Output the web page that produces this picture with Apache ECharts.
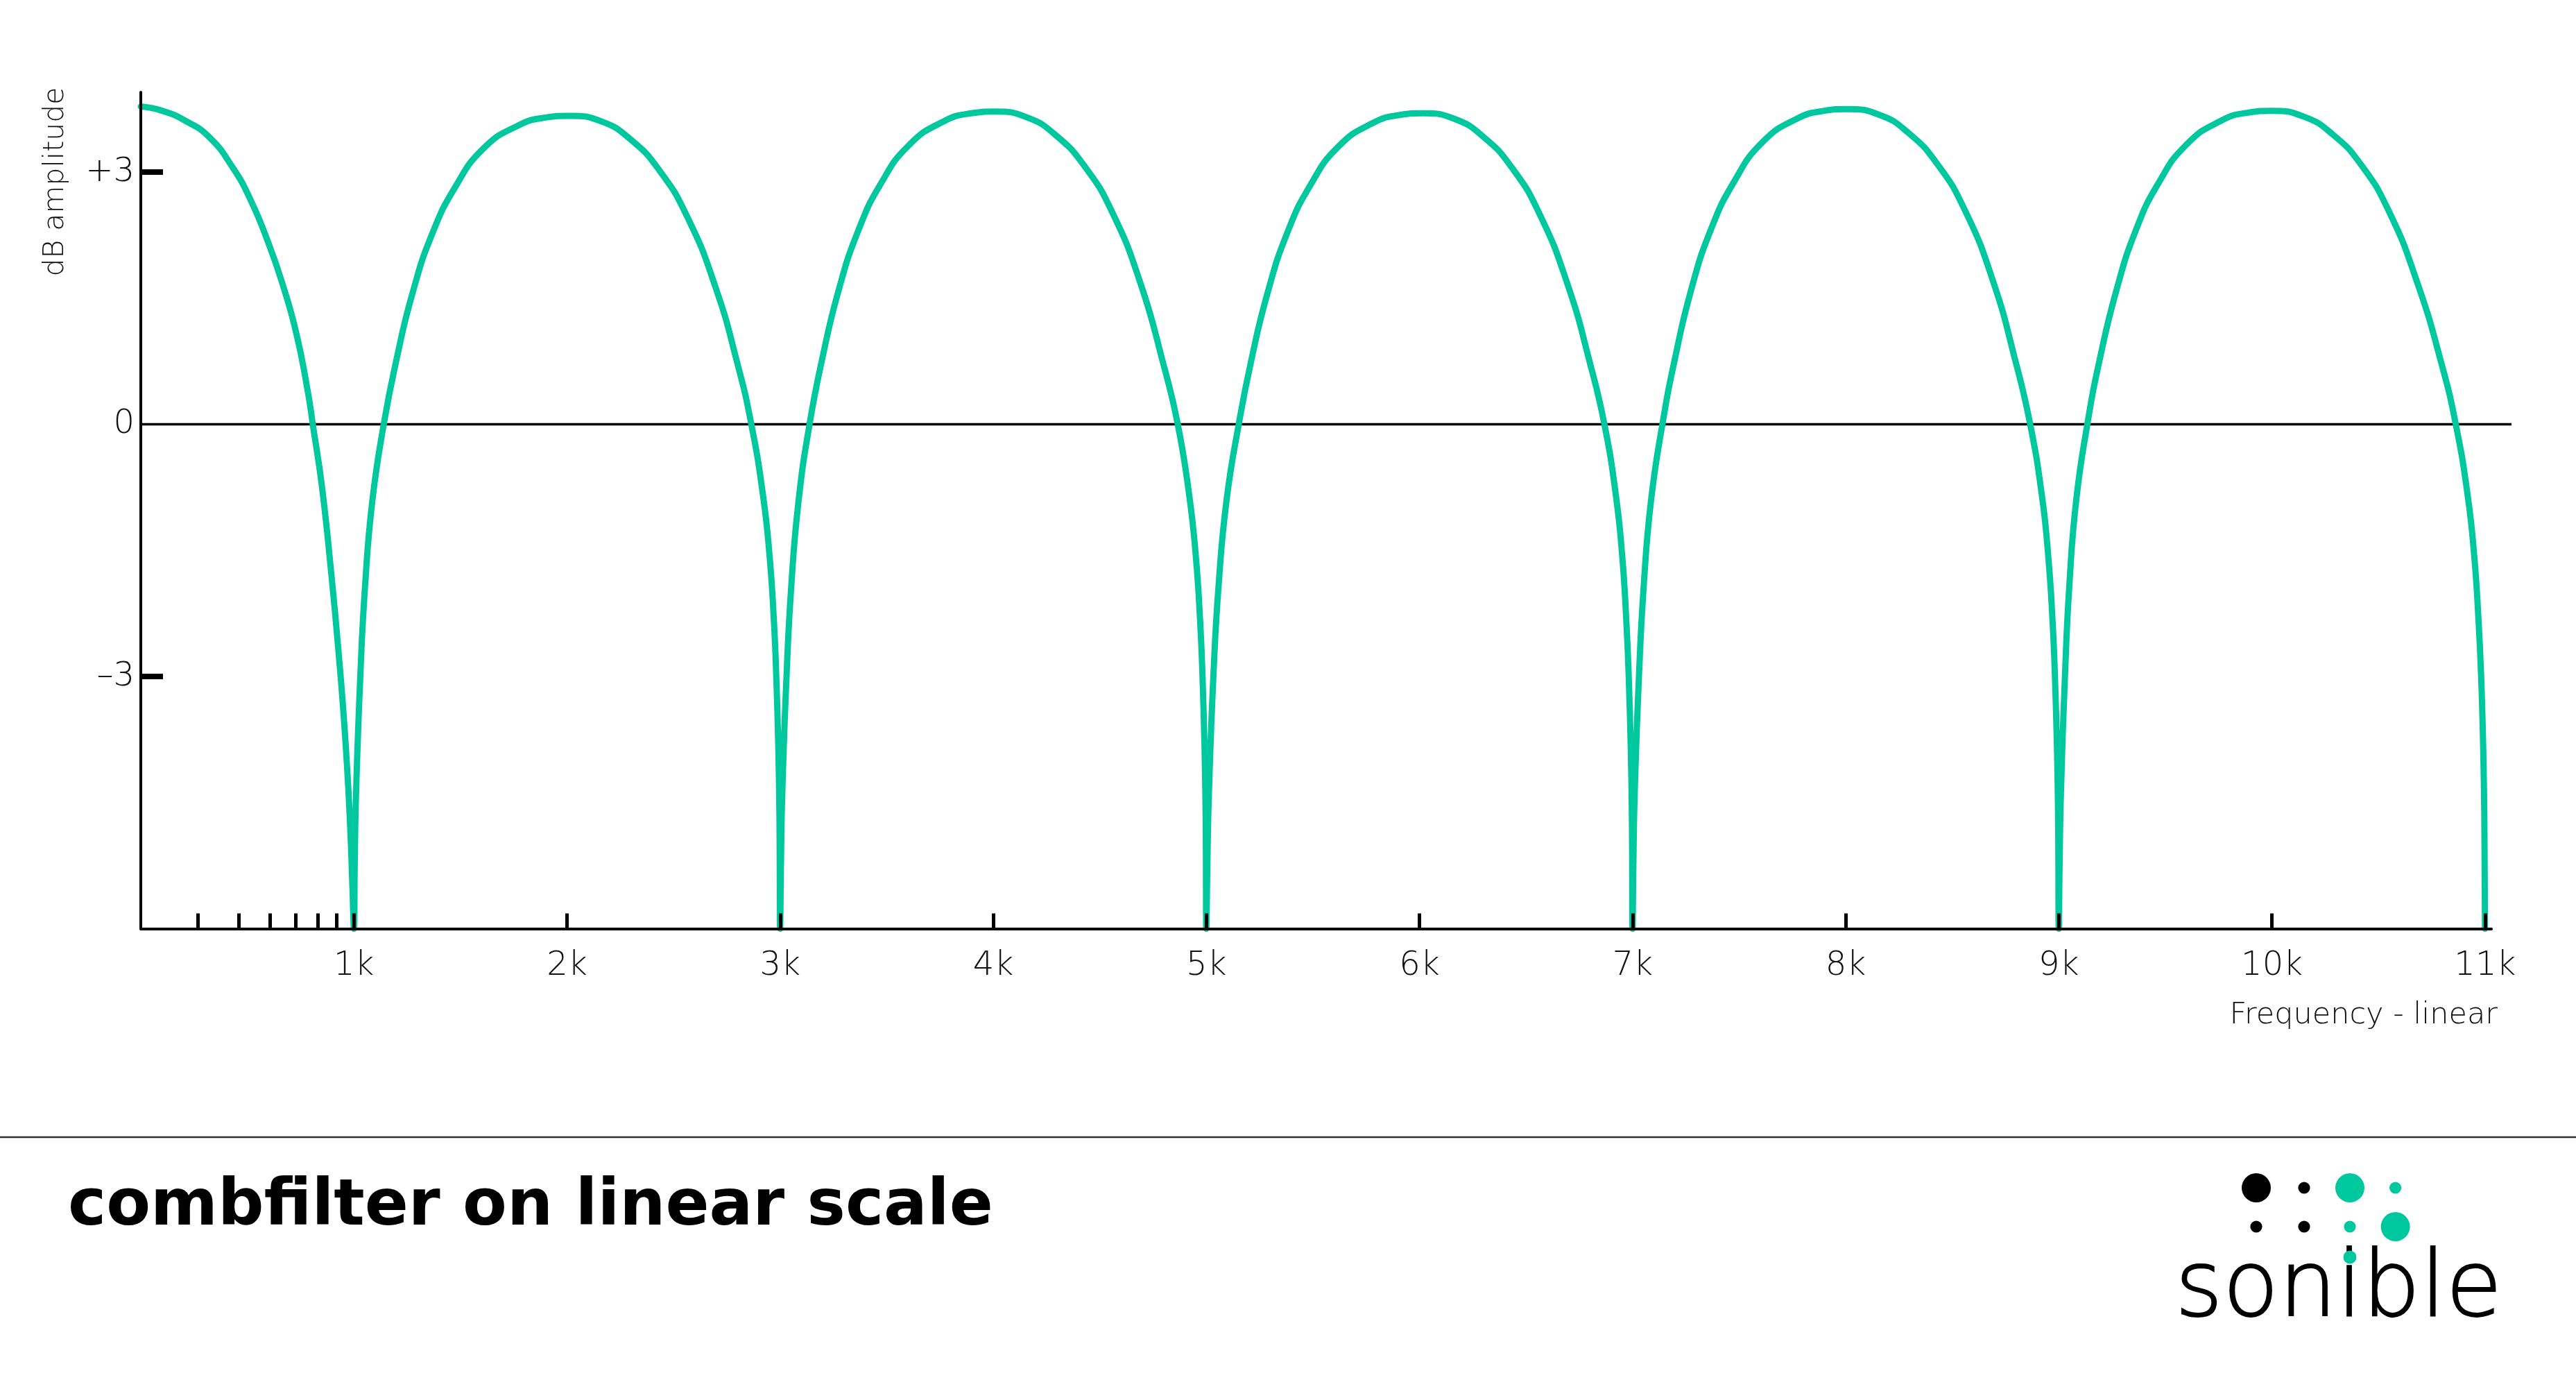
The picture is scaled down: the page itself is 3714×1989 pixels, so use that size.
<!DOCTYPE html>
<html>
<head>
<meta charset="utf-8">
<script src="https://cdn.jsdelivr.net/npm/echarts@6/dist/echarts.min.js"></script>
<style>html,body{margin:0;padding:0;background:#fff}#c{width:3714px;height:1989px}</style>
</head>
<body>
<div id="c"></div>
<script>
// ---- data (frequency in kHz, level in dB) ----
const ARCH_0K_1K = [[0,3.78],[0.1,3.73],[0.21,3.61],[0.32,3.42],[0.43,3.06],[0.515,2.67],[0.6,2.15],[0.665,1.67],[0.73,1.08],[0.785,0.37],[0.807,0],[0.85,-0.74],[0.894,-1.78],[0.927,-2.68],[0.959,-3.72],[0.981,-4.7],[0.993,-5.5],[1.0,-6]];
const ARCH_1K_3K = [[1.004,-5.2],[1.01,-4.4],[1.03,-3.0],[1.053,-1.9],[1.087,-0.9],[1.14,0],[1.198,0.75],[1.275,1.56],[1.368,2.27],[1.475,2.82],[1.607,3.28],[1.767,3.55],[1.9,3.65],[2.01,3.67],[2.165,3.6],[2.298,3.39],[2.431,3.03],[2.564,2.47],[2.697,1.63],[2.8,0.72],[2.865,0],[2.92,-0.85],[2.95,-1.55],[2.97,-2.3],[2.982,-3.0],[2.992,-3.9],[2.997,-4.7],[3.0,-6]];
const ARCH_3K_5K = [[3.004,-5.2],[3.01,-4.4],[3.03,-3.0],[3.053,-1.9],[3.087,-0.9],[3.138,0],[3.196,0.76],[3.273,1.58],[3.366,2.3],[3.472,2.86],[3.604,3.32],[3.764,3.6],[3.897,3.7],[4.005,3.72],[4.16,3.65],[4.293,3.44],[4.426,3.08],[4.559,2.52],[4.692,1.67],[4.796,0.74],[4.866,0],[4.92,-0.85],[4.95,-1.55],[4.97,-2.3],[4.982,-3.0],[4.992,-3.9],[4.997,-4.7],[5.0,-6]];
const ARCH_5K_7K = [[5.005,-5.2],[5.012,-4.4],[5.033,-3.0],[5.058,-1.9],[5.095,-0.9],[5.152,0],[5.21,0.75],[5.287,1.56],[5.38,2.28],[5.487,2.84],[5.618,3.3],[5.778,3.58],[5.908,3.68],[6.015,3.7],[6.168,3.63],[6.3,3.42],[6.432,3.06],[6.564,2.5],[6.697,1.65],[6.8,0.73],[6.868,0],[6.922,-0.85],[6.951,-1.55],[6.97,-2.3],[6.982,-3.0],[6.992,-3.9],[6.997,-4.7],[7.0,-6]];
const ARCH_7K_9K = [[7.004,-5.2],[7.01,-4.4],[7.03,-3.0],[7.053,-1.9],[7.087,-0.9],[7.14,0],[7.198,0.77],[7.275,1.6],[7.368,2.32],[7.475,2.88],[7.607,3.35],[7.767,3.63],[7.9,3.73],[8.003,3.75],[8.16,3.68],[8.293,3.47],[8.426,3.11],[8.559,2.55],[8.692,1.7],[8.797,0.75],[8.866,0],[8.921,-0.85],[8.95,-1.55],[8.97,-2.3],[8.982,-3.0],[8.992,-3.9],[8.997,-4.7],[9.0,-6]];
const ARCH_9K_11K = [[9.004,-5.2],[9.01,-4.4],[9.029,-3.0],[9.05,-1.9],[9.082,-0.9],[9.134,0],[9.192,0.77],[9.27,1.59],[9.362,2.31],[9.468,2.87],[9.6,3.33],[9.76,3.61],[9.893,3.71],[9.996,3.73],[10.15,3.66],[10.285,3.45],[10.418,3.09],[10.55,2.53],[10.683,1.68],[10.794,0.74],[10.863,0],[10.919,-0.85],[10.949,-1.55],[10.969,-2.3],[10.982,-3.0],[10.992,-3.9],[10.997,-4.7],[11.0,-6]];
const ZERO_LINE = [[0,0],[11.13,0]];

const X_TICKS = [0.269,0.459,0.606,0.727,0.83,0.917,1,2,3,4,5,6,7,8,9,10,11];
const X_TICK_LABELS = [1,2,3,4,5,6,7,8,9,10,11];
const Y_TICKS = [-3,3];
const Y_TICK_LABELS = [-3,0,3];
const X_RANGE = [0, 11.03];
const ZERO_LINE_RANGE = [0, 11.13];
const Y_RANGE = [-6, 3.95];

const CURVE = [].concat(ARCH_0K_1K, ARCH_1K_3K, ARCH_3K_5K, ARCH_5K_7K, ARCH_7K_9K, ARCH_9K_11K);

// ---- style ----
const GREEN = '#00C89E';
const LIGHT = '"DejaVu Sans", sans-serif';
const BOLD = '"DejaVu Sans", sans-serif';

const chart = echarts.init(document.getElementById('c'), null, {renderer: 'canvas', width: 3714, height: 1989});

const dots = [
  [3253, 1712, 21, '#000'], [3322, 1712, 8.6, '#000'], [3388, 1712, 21, GREEN], [3453.6, 1712, 8.6, GREEN],
  [3253, 1768, 8.6, '#000'], [3322, 1768, 8.6, '#000'], [3388, 1768, 8.6, GREEN], [3453.6, 1768, 21, GREEN]
];

const graphic = [
  {type: 'line', shape: {x1: 0, y1: 1639, x2: 3714, y2: 1639}, style: {stroke: '#333', lineWidth: 2.5}},
  {type: 'text', x: 98, y: 1741, style: {text: 'combfilter on linear scale', font: 'bold 93px ' + BOLD, fill: '#000', align: 'left', verticalAlign: 'middle', textAlign: 'left', textVerticalAlign: 'middle'}},
  {type: 'text', x: 3601, y: 1464, style: {text: 'Frequency - linear', font: '200 43px ' + LIGHT, fill: '#111', align: 'right', verticalAlign: 'middle', textAlign: 'right', textVerticalAlign: 'middle'}},
  {type: 'text', x: 80, y: 262, rotation: Math.PI / 2, style: {text: 'dB amplitude', font: '200 41px ' + LIGHT, fill: '#111', align: 'center', verticalAlign: 'middle', textAlign: 'center', textVerticalAlign: 'middle'}},
  {type: 'text', x: 3136, y: 1862, style: {text: 'sonible', font: '200 132px ' + LIGHT, fill: '#000', stroke: '#000', lineWidth: 1.8, align: 'left', verticalAlign: 'middle', textAlign: 'left', textVerticalAlign: 'middle'}}
];
dots.forEach(d => graphic.push({type: 'circle', shape: {cx: d[0], cy: d[1], r: d[2]}, style: {fill: d[3]}}));
graphic.push({type: 'circle', shape: {cx: 3388, cy: 1812, r: 9.5}, style: {fill: GREEN}});

chart.setOption({
  animation: false,
  backgroundColor: '#fff',
  grid: [
    {left: 203, right: 122, top: 133, bottom: 650.5, containLabel: false},
    {left: 203, right: 93, top: 133, bottom: 650.5, containLabel: false}
  ],
  xAxis: [{
    type: 'value', gridIndex: 0, min: X_RANGE[0], max: X_RANGE[1], z: 10,
    axisLine: {onZero: false, lineStyle: {color: '#000', width: 4}},
    axisTick: {show: true, inside: true, length: 22, lineStyle: {color: '#000', width: 5}, customValues: X_TICKS},
    axisLabel: {show: true, customValues: X_TICK_LABELS, formatter: v => v + 'k', margin: 30, color: '#111', fontSize: 48, fontWeight: 200, fontFamily: LIGHT},
    splitLine: {show: false}
  }, {
    type: 'value', gridIndex: 1, min: ZERO_LINE_RANGE[0], max: ZERO_LINE_RANGE[1], show: false
  }],
  yAxis: [{
    type: 'value', gridIndex: 0, min: Y_RANGE[0], max: Y_RANGE[1], z: 10,
    axisLine: {onZero: false, lineStyle: {color: '#000', width: 4}},
    axisTick: {show: true, inside: true, length: 32, lineStyle: {color: '#000', width: 8}, customValues: Y_TICKS},
    axisLabel: {show: true, customValues: Y_TICK_LABELS, formatter: v => v > 0 ? '+' + v : (v < 0 ? '\u2013' + (-v) : '0'), margin: 9, color: '#111', fontSize: 48, fontWeight: 200, fontFamily: LIGHT},
    splitLine: {show: false}
  }, {
    type: 'value', gridIndex: 1, min: Y_RANGE[0], max: Y_RANGE[1], show: false
  }],
  series: [
    {type: 'line', xAxisIndex: 1, yAxisIndex: 1, data: ZERO_LINE, showSymbol: false, silent: true, z: 2, lineStyle: {color: '#000', width: 3.5}},
    {type: 'line', xAxisIndex: 0, yAxisIndex: 0, data: CURVE, showSymbol: false, smooth: 0.5, clip: true, z: 3, lineStyle: {color: GREEN, width: 9, cap: 'round', join: 'round'}}
  ],
  graphic: graphic
});
</script>
</body>
</html>
